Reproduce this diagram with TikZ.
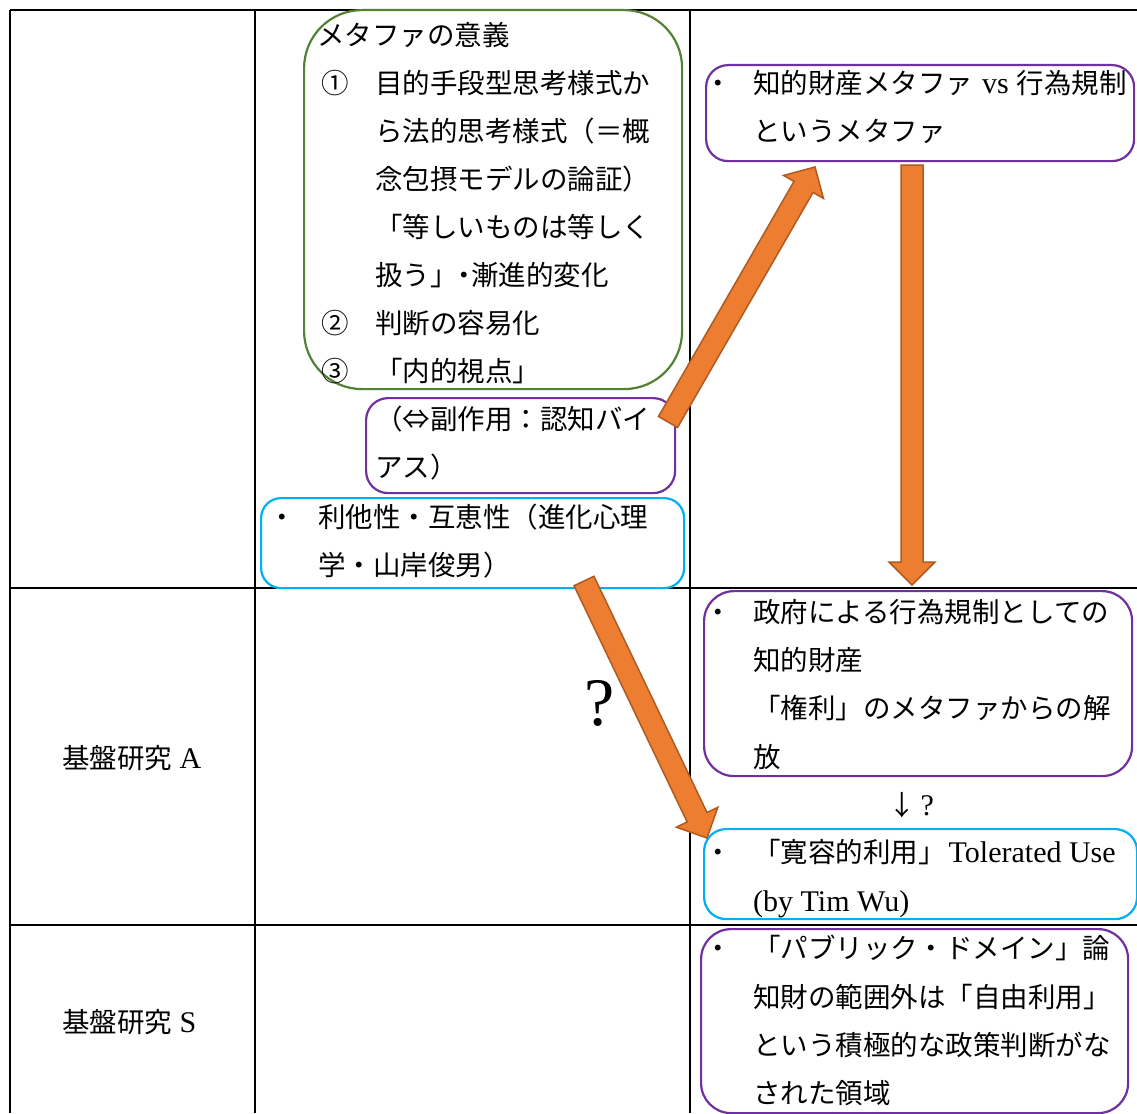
\documentclass[tikz,border=0pt]{standalone}
\usepackage{fontspec}
\setmainfont{Liberation Serif}
\newfontfamily\cjk{Noto Sans CJK JP}
\newfontfamily\latf{Liberation Serif}
\newcommand\lat[1]{{\latf\fontsize{30}{30}\selectfont #1}}
\usetikzlibrary{calc}
\definecolor{grn}{HTML}{548235}
\definecolor{prp}{HTML}{7030A0}
\definecolor{cyn}{HTML}{00B0F0}
\definecolor{org}{HTML}{ED7D31}
\definecolor{orgd}{HTML}{AE5A21}
\tikzset{
  tbl/.style={line width=2pt, draw=black},
  rbox/.style={draw=#1, line width=2.2pt, rectangle, inner sep=0pt, anchor=north west},
  txt/.style={inner sep=0pt, anchor=base west, font=\cjk\fontsize{27.5}{30}\selectfont},
  barrow/.style={fill=org, draw=orgd, line width=1.5pt, line join=miter},
}
\newcommand\blockarrow[2]{%
  \path ($(#2)!23pt!(#1)$) coordinate (hb);
  \draw[barrow] ($(#1)!11pt!90:(#2)$) -- ($(hb)!11pt!90:(#2)$) -- ($(hb)!23pt!90:(#2)$) -- (#2)
     -- ($(hb)!23pt!-90:(#2)$) -- ($(hb)!11pt!-90:(#2)$) -- ($(#1)!11pt!-90:(#2)$) -- cycle;}
\begin{document}
\begin{tikzpicture}[x=1pt,y=-1pt]
\useasboundingbox (0,0) rectangle (1137,1113);
\clip (0,0) rectangle (1137,1113);
\fill[white] (0,0) rectangle (1137,1113);
% table
\draw[tbl] (10,10) -- (1137,10);
\draw[tbl] (10,10) -- (10,1113);
\draw[tbl] (255,10) -- (255,1113);
\draw[tbl] (690,10) -- (690,1113);
\draw[tbl] (10,588) -- (1137,588);
\draw[tbl] (10,925) -- (1137,925);
% boxes
\node[rbox=grn, rounded corners=58pt, minimum width=378pt, minimum height=379pt] (g) at (303,9) {};
\node[rbox=prp, rounded corners=22pt, minimum width=309pt, minimum height=95pt] (p1) at (365,397) {};
\node[rbox=cyn, rounded corners=20pt, minimum width=423pt, minimum height=90pt] (c1) at (260,497) {};
\node[rbox=prp, rounded corners=22pt, minimum width=428pt, minimum height=96pt] (p0) at (705,64) {};
\node[rbox=prp, rounded corners=30pt, minimum width=428pt, minimum height=185pt] (pB) at (703,590) {};
\node[rbox=cyn, rounded corners=22pt, minimum width=433pt, minimum height=90pt] (cC) at (703,828) {};
\node[rbox=prp, rounded corners=30pt, minimum width=427pt, minimum height=184pt] (pD) at (700,928) {};
% green box text
\node[txt] (g0) at (317,45.5) {メタファの意義};
\node[txt] (g1n) at (321,93.5) {①};
\node[txt] (g1) at (375,93.5) {目的手段型思考様式か};
\node[txt] (g2) at (375,141.5) {ら法的思考様式（＝概};
\node[txt] (g3) at (375,189.5) {念包摂モデルの論証）};
\node[txt] (g4) at (375,237.5) {「等しいものは等しく};
\node[txt] (g5) at (375,285.5) {扱う」\kern-7pt・\kern-7pt漸進的変化};
\node[txt] (g6n) at (321,333.5) {②};
\node[txt] (g6) at (375,333.5) {判断の容易化};
\node[txt] (g7n) at (321,381.5) {③};
\node[txt] (g7) at (375,381.5) {「内的視点」};
% purple box 1
\node[txt] (p1a) at (375,429) {（⇔副作用：認知バイ};
\node[txt] (p1b) at (375,477.5) {アス）};
% cyan box 1
\node[txt] (c1d) at (268,527.5) {・};
\node[txt] (c1a) at (318,527.5) {利他性・互恵性（進化心理};
\node[txt] (c1b) at (318,575.5) {学・山岸俊男）};
% top right box
\node[txt] (p0d) at (704,93.5) {・};
\node[txt] (p0a) at (753,93.5) {知的財産メタファ\hspace{9pt}\lat{vs}\hspace{8pt}行為規制};
\node[txt] (p0b) at (753,141.5) {というメタファ};
% box B
\node[txt] (pBd) at (704,622.5) {・};
\node[txt] (pBa) at (753,622.5) {政府による行為規制としての};
\node[txt] (pBb) at (753,670.5) {知的財産};
\node[txt] (pBc) at (753,718.5) {「権利」のメタファからの解};
\node[txt] (pBe) at (753,767) {放};
% down arrow with question
\node[txt] (dq) at (888,815) {↓\kern5pt\lat{?}};
% box C
\node[txt] (cCd) at (704,862.5) {・};
\node[txt] (cCa) at (753,862.5) {「寛容的利用」\kern3pt\lat{Tolerated Use}};
\node[txt] (cCb) at (753,911.5) {\lat{(by Tim Wu)}};
% box D
\node[txt] (pDd) at (704,958.5) {・};
\node[txt] (pDa) at (753,958.5) {「パブリック・ドメイン」論};
\node[txt] (pDb) at (753,1007.5) {知財の範囲外は「自由利用」};
\node[txt] (pDc) at (753,1055.5) {という積極的な政策判断がな};
\node[txt] (pDe) at (753,1103.5) {された領域};
% left labels
\node[txt] (la) at (62,768.5) {基盤研究\lat{ A}};
\node[txt] (ls) at (62,1032.5) {基盤研究\lat{ S}};
% big question mark
\node[inner sep=0pt, anchor=base, font=\latf\fontsize{68}{68}\selectfont] (q) at (600,725) {?};
% arrows
\coordinate (a1s) at (668,422); \coordinate (a1e) at (815,167);
\coordinate (a2s) at (912,165); \coordinate (a2e) at (912,585);
\coordinate (a3s) at (584,581); \coordinate (a3e) at (707,838);
\blockarrow{a1s}{a1e}
\blockarrow{a2s}{a2e}
\blockarrow{a3s}{a3e}
\end{tikzpicture}
\end{document}
